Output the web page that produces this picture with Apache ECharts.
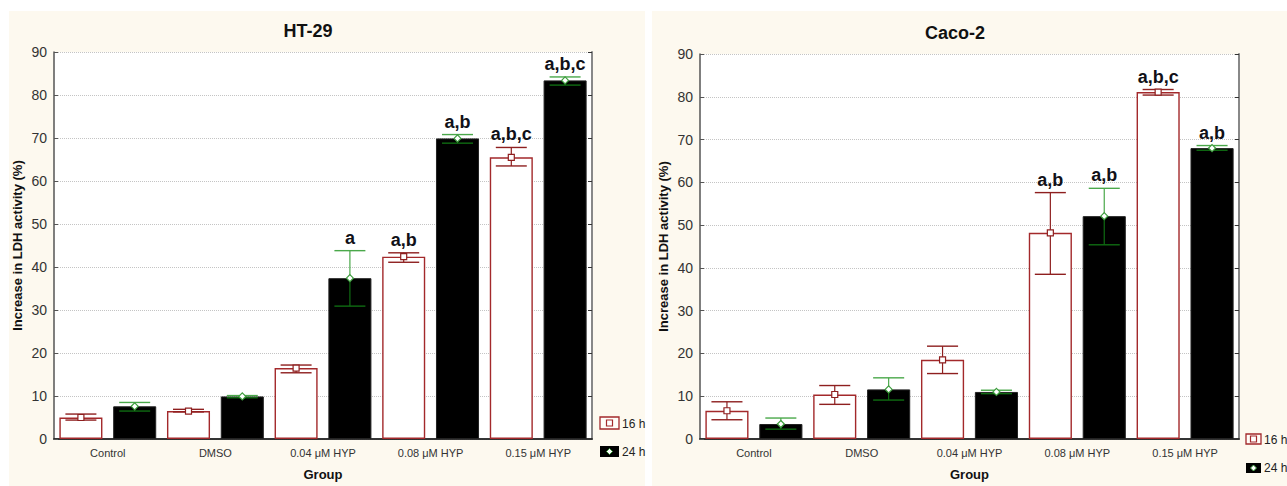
<!DOCTYPE html>
<html>
<head>
<meta charset="utf-8">
<title>LDH activity - HT-29 / Caco-2</title>
<script src="https://cdn.jsdelivr.net/npm/echarts@6/dist/echarts.min.js"></script>
<style>
  html, body { margin: 0; padding: 0; background: #ffffff; }
  #chart { width: 1287px; height: 486px; }
</style>
</head>
<body>
<div id="chart"></div>
<script>
// groups on the x axis
const categories = ['Control', 'DMSO', '0.04 μM HYP', '0.08 μM HYP', '0.15 μM HYP']
const yTicks = [0, 10, 20, 30, 40, 50, 60, 70, 80, 90]

// HT-29 (mean, error bar low / high)
const ht16 = [5.0, 6.5, 16.5, 42.4, 65.5]
const ht16Lo = [4.4, 6.3, 15.4, 41.1, 63.5]
const ht16Hi = [5.8, 6.9, 17.2, 43.3, 67.8]
const ht24 = [7.6, 9.9, 37.4, 69.9, 83.4]
const ht24Lo = [6.5, 9.6, 30.9, 68.8, 82.3]
const ht24Hi = [8.5, 10.1, 43.8, 70.8, 84.2]
const ht16Sig = ['', '', '', 'a,b', 'a,b,c']
const ht24Sig = ['', '', 'a', 'a,b', 'a,b,c']

// Caco-2
const caco16 = [6.6, 10.4, 18.5, 48.2, 81.1]
const caco16Lo = [4.5, 8.1, 15.3, 38.5, 80.4]
const caco16Hi = [8.7, 12.5, 21.7, 57.6, 81.7]
const caco24 = [3.5, 11.6, 11.0, 52.1, 68.0]
const caco24Lo = [2.3, 9.1, 10.6, 45.4, 67.5]
const caco24Hi = [4.9, 14.3, 11.4, 58.6, 68.6]
const caco16Sig = ['', '', '', 'a,b', 'a,b,c']
const caco24Sig = ['', '', '', 'a,b', 'a,b']

const FONT = '"Liberation Sans", Arial, sans-serif'
const RED = '#a3292b'
const CREAM = '#fdf9ef'

// custom series: error bar + mean marker + letters, placed on the 16h (side -1) or 24h (side +1) bar
function errSeries(gridIdx, mean, lo, hi, sig, side) {
  const data = mean.map((m, i) => [i, m, lo[i], hi[i], sig[i]])
  return {
    type: 'custom',
    xAxisIndex: gridIdx * 2,
    yAxisIndex: gridIdx * 2,
    z: 5,
    silent: true,
    data: data,
    renderItem(params, api) {
      const i = api.value(0)
      const bw = api.size([1, 0])[0]
      const x = api.coord([i, 0])[0] + side * 0.25 * bw
      const cap = 0.4 * bw * 0.36
      const ym = api.coord([i, api.value(1)])[1]
      const yl = api.coord([i, api.value(2)])[1]
      const yh = api.coord([i, api.value(3)])[1]
      const topCol = side < 0 ? '#8e1f1f' : '#4aa84a'
      const botCol = side < 0 ? '#8e1f1f' : '#0f6b12'
      const children = [
        { type: 'line', shape: { x1: x, y1: yh, x2: x, y2: ym }, style: { stroke: topCol, lineWidth: 1.2 } },
        { type: 'line', shape: { x1: x - cap, y1: yh, x2: x + cap, y2: yh }, style: { stroke: topCol, lineWidth: 1.4 } },
        { type: 'line', shape: { x1: x, y1: ym, x2: x, y2: yl }, style: { stroke: botCol, lineWidth: 1.2 } },
        { type: 'line', shape: { x1: x - cap, y1: yl, x2: x + cap, y2: yl }, style: { stroke: botCol, lineWidth: 1.4 } }
      ]
      if (side < 0) {
        children.push({ type: 'rect', shape: { x: x - 3, y: ym - 3, width: 6, height: 6 }, style: { fill: '#fff', stroke: '#8e1f1f', lineWidth: 1.2 } })
      } else {
        children.push({ type: 'polygon', shape: { points: [[x, ym - 3.5], [x + 3.5, ym], [x, ym + 3.5], [x - 3.5, ym]] }, style: { fill: '#fff', stroke: '#3c9c3c', lineWidth: 1.2 } })
      }
      const txt = api.value(4)
      if (txt) {
        children.push({
          type: 'text',
          x: x,
          y: yh - 4,
          style: { text: txt, align: 'center', verticalAlign: 'bottom', font: 'bold 18px ' + FONT, fill: '#111118' }
        })
      }
      return { type: 'group', children: children }
    }
  }
}

function barSeries(gridIdx, name, values, is16) {
  return {
    type: 'bar',
    name: name,
    xAxisIndex: gridIdx * 2,
    yAxisIndex: gridIdx * 2,
    barCategoryGap: '10%',
    barGap: '25%',
    silent: true,
    itemStyle: is16
      ? { color: '#ffffff', borderColor: RED, borderWidth: 1.4 }
      : { color: '#000000', borderColor: '#222', borderWidth: 1 },
    data: values
  }
}

function xAxes(gridIdx) {
  return [
    {
      gridIndex: gridIdx,
      type: 'category',
      data: categories,
      position: 'bottom',
      axisLine: { lineStyle: { color: '#444', width: 1.5 } },
      axisTick: { inside: true, alignWithLabel: true, length: 4, lineStyle: { color: '#444' } },
      axisLabel: { fontFamily: FONT, fontSize: 11, color: '#333', margin: 8 },
      name: 'Group',
      nameLocation: 'middle',
      nameGap: 29,
      nameTextStyle: { fontFamily: FONT, fontSize: 13, fontWeight: 'bold', color: '#111' }
    },
    {
      gridIndex: gridIdx,
      type: 'category',
      data: categories,
      position: 'top',
      axisLine: { lineStyle: { color: '#222', width: 1.5 } },
      axisTick: { inside: true, alignWithLabel: true, length: 4, lineStyle: { color: '#444' } },
      axisLabel: { show: false }
    }
  ]
}

function yAxes(gridIdx) {
  return [
    {
      gridIndex: gridIdx,
      type: 'value',
      min: yTicks[0],
      max: yTicks[yTicks.length - 1],
      interval: 10,
      axisLine: { show: true, lineStyle: { color: '#555', width: 1.5 } },
      axisTick: { show: true, inside: true, length: 4, lineStyle: { color: '#555' } },
      axisLabel: { fontFamily: FONT, fontSize: 14, color: '#333', margin: 7 },
      splitLine: { lineStyle: { type: 'dotted', color: '#c4c4c4', width: 1 } },
      name: 'Increase in LDH activity (%)',
      nameLocation: 'middle',
      nameRotate: 90,
      nameGap: 30,
      nameTextStyle: { fontFamily: FONT, fontSize: 13, fontWeight: 'bold', color: '#111' }
    },
    {
      gridIndex: gridIdx,
      type: 'value',
      position: 'right',
      min: yTicks[0],
      max: yTicks[yTicks.length - 1],
      interval: 10,
      axisLine: { show: true, lineStyle: { color: '#888', width: 2 } },
      axisTick: { show: true, inside: true, length: 4, lineStyle: { color: '#333' } },
      axisLabel: { show: false },
      splitLine: { show: false }
    }
  ]
}

// legend boxes (drawn as graphics)
function legend16(x, y, w, h) {
  return [
    { type: 'rect', shape: { x: x, y: y, width: w, height: h }, style: { fill: '#fffdf8', stroke: RED, lineWidth: 1.3 } },
    { type: 'rect', shape: { x: x + w / 2 - 3, y: y + h / 2 - 3, width: 6, height: 6 }, style: { fill: '#fff', stroke: RED, lineWidth: 1.2 } }
  ]
}
function legend24(x, y, w, h) {
  const cx = x + w / 2
  const cy = y + h / 2
  return [
    { type: 'rect', shape: { x: x, y: y, width: w, height: h }, style: { fill: '#000' } },
    { type: 'polygon', shape: { points: [[cx, cy - 3], [cx + 3, cy], [cx, cy + 3], [cx - 3, cy]] }, style: { fill: '#fff', stroke: '#3c9c3c', lineWidth: 1 } }
  ]
}
function legendText(x, y, t) {
  return { type: 'text', x: x, y: y, style: { text: t, font: '12px ' + FONT, fill: '#222', verticalAlign: 'middle' } }
}

const option = {
  backgroundColor: '#ffffff',
  animation: false,
  title: [
    { text: 'HT-29', left: 303, top: 17, textAlign: 'center', textStyle: { fontFamily: FONT, fontSize: 18, fontWeight: 'bold', color: '#111' } },
    { text: 'Caco-2', left: 950, top: 19, textAlign: 'center', textStyle: { fontFamily: FONT, fontSize: 18, fontWeight: 'bold', color: '#111' } }
  ],
  grid: [
    { left: 54, top: 52, width: 538, height: 390, show: true, backgroundColor: '#ffffff', borderWidth: 0 },
    { left: 700, top: 54, width: 539, height: 390, show: true, backgroundColor: '#ffffff', borderWidth: 0 }
  ],
  xAxis: [...xAxes(0), ...xAxes(1)],
  yAxis: [...yAxes(0), ...yAxes(1)],
  graphic: [
    { type: 'rect', z: -10, silent: true, shape: { x: 9, y: 11, width: 636, height: 475 }, style: { fill: CREAM } },
    { type: 'rect', z: -10, silent: true, shape: { x: 652, y: 11, width: 635, height: 475 }, style: { fill: CREAM } },
    ...legend16(600, 417, 19, 12),
    legendText(622, 423.5, '16 h'),
    ...legend24(600, 446, 19, 11),
    legendText(622, 452, '24 h'),
    ...legend16(1246, 434, 15, 10),
    legendText(1264, 439.5, '16 h'),
    ...legend24(1246, 463, 15, 10),
    legendText(1264, 468, '24 h')
  ],
  series: [
    barSeries(0, '16 h', ht16, true),
    barSeries(0, '24 h', ht24, false),
    errSeries(0, ht16, ht16Lo, ht16Hi, ht16Sig, -1),
    errSeries(0, ht24, ht24Lo, ht24Hi, ht24Sig, 1),
    barSeries(1, '16 h', caco16, true),
    barSeries(1, '24 h', caco24, false),
    errSeries(1, caco16, caco16Lo, caco16Hi, caco16Sig, -1),
    errSeries(1, caco24, caco24Lo, caco24Hi, caco24Sig, 1)
  ]
}

const chart = echarts.init(document.getElementById('chart'), null, { renderer: 'svg' })
chart.setOption(option)
</script>
</body>
</html>
